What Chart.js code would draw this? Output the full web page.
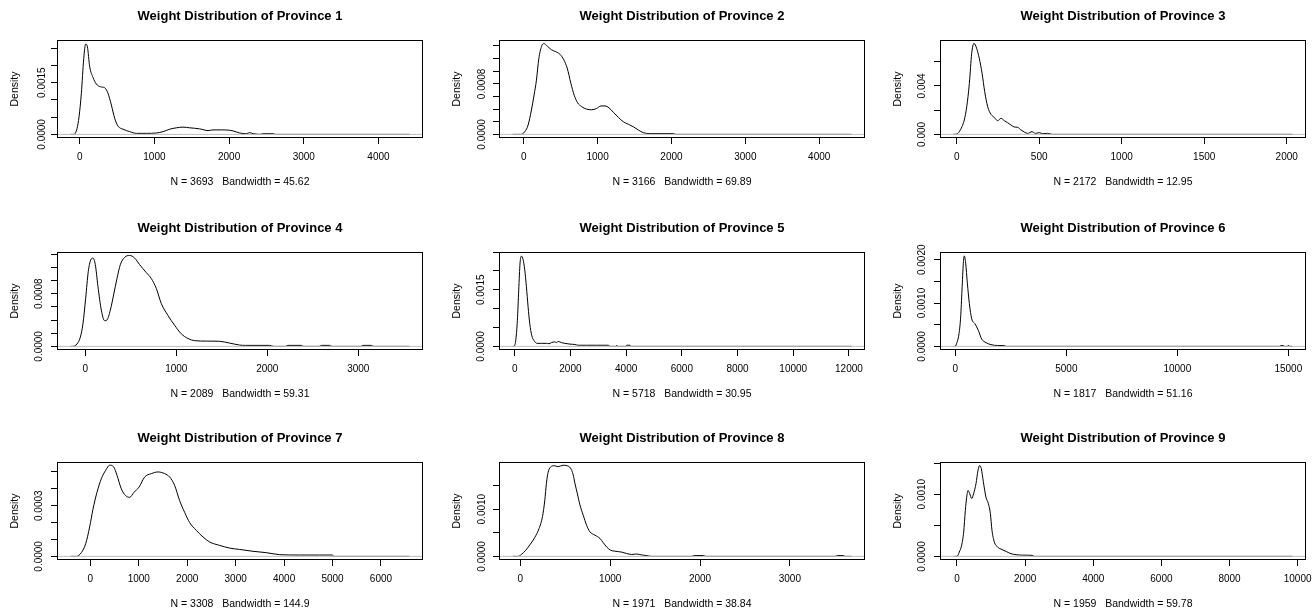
<!DOCTYPE html>
<html>
<head>
<meta charset="utf-8">
<script src="https://cdn.jsdelivr.net/npm/chart.js@4.4.1/dist/chart.umd.min.js"></script>
<style>
html,body{margin:0;padding:0;background:#fff;width:1316px;height:611px;overflow:hidden;position:relative}
canvas{position:absolute}
</style>
</head>
<body>
<script>
// ---------------- data ----------------
const titles = [1,2,3,4,5,6,7,8,9].map(n => 'Weight Distribution of Province ' + n);
const sampleSizes = [3693, 3166, 2172, 2089, 5718, 1817, 3308, 1971, 1959];
const bandwidths = ['45.62', '69.89', '12.95', '59.31', '30.95', '51.16', '144.9', '38.84', '59.78'];

// axis limits (R default: data range extended by 4%)
const xLimits = [[-304, 4596], [-335, 4620], [-101, 2117], [-311, 3711], [-564, 12576], [-691, 15796], [-688, 6868], [-238, 3837], [-499, 10245]];
const yLimits = [[-0.000105, 0.002737], [-0.0000575, 0.001495], [-0.0003, 0.007785], [-0.000055, 0.001432], [-0.0000962, 0.0025], [-0.0000838, 0.002179], [-0.0000215, 0.000559], [-0.000077, 0.001999], [-0.0000583, 0.001517]];

// tick values and labels
const xTicks = [
  [0, 1000, 2000, 3000, 4000],
  [0, 1000, 2000, 3000, 4000],
  [0, 500, 1000, 1500, 2000],
  [0, 1000, 2000, 3000],
  [0, 2000, 4000, 6000, 8000, 10000, 12000],
  [0, 5000, 10000, 15000],
  [0, 1000, 2000, 3000, 4000, 5000, 6000],
  [0, 1000, 2000, 3000],
  [0, 2000, 4000, 6000, 8000, 10000]
];
const yTicks = [
  [0, 0.0005, 0.001, 0.0015, 0.002, 0.0025],
  [0, 0.0002, 0.0004, 0.0006, 0.0008, 0.001, 0.0012, 0.0014],
  [0, 0.002, 0.004, 0.006],
  [0, 0.0002, 0.0004, 0.0006, 0.0008, 0.001, 0.0012, 0.0014],
  [0, 0.0005, 0.001, 0.0015, 0.002, 0.0025],
  [0, 0.0005, 0.001, 0.0015, 0.002],
  [0, 0.0001, 0.0002, 0.0003, 0.0004, 0.0005],
  [0, 0.0005, 0.001, 0.0015],
  [0, 0.0005, 0.001, 0.0015]
];
const yTickLabels = [
  ['0.0000', '', '', '0.0015', '', ''],
  ['0.0000', '', '', '', '0.0008', '', '', ''],
  ['0.000', '', '0.004', ''],
  ['0.0000', '', '', '', '0.0008', '', '', ''],
  ['0.0000', '', '', '0.0015', '', ''],
  ['0.0000', '', '0.0010', '', '0.0020'],
  ['0.0000', '', '', '0.0003', '', ''],
  ['0.0000', '', '0.0010', ''],
  ['0.0000', '', '0.0010', '']
];

// density curves (x: weight, y: density)
const p1X = [-123, -80, -36, -9, 22, 54, 80, 103, 134, 178, 223, 277, 335, 379, 424, 469, 513, 580, 669, 759, 892, 1026, 1116, 1205, 1294, 1383, 1473, 1606, 1718, 1785, 1897, 2008, 2053, 2142, 2231, 2276, 2321, 2365, 2410, 2455, 2520, 2589, 2620, 4414];
const p1Y = [0, 0, 0.00017, 0.00051, 0.00119, 0.0022, 0.00262, 0.00254, 0.00196, 0.00165, 0.00146, 0.00138, 0.00135, 0.00119, 0.00085, 0.00046, 0.00024, 0.00015, 0.00008, 0.00003, 0.00003, 0.00004, 0.00008, 0.00015, 0.00019, 0.00021, 0.00019, 0.00016, 0.00011, 0.00013, 0.00013, 0.00012, 0.0001, 0.00004, 0.00002, 0.00005, 0.00002, 0.00001, 0, 0.00002, 0.00002, 0.00002, 0, 0];

const p2X = [-152, -41, 14, 59, 104, 140, 172, 204, 240, 271, 317, 376, 434, 489, 543, 588, 638, 683, 729, 783, 851, 919, 986, 1045, 1100, 1154, 1213, 1281, 1348, 1416, 1484, 1552, 1620, 1710, 1846, 2027, 2060, 4436];
const p2Y = [0, 0, 0.000042, 0.000148, 0.000386, 0.000623, 0.00086, 0.0012, 0.00139, 0.00144, 0.0014, 0.00134, 0.00131, 0.00127, 0.00118, 0.00105, 0.00081, 0.00062, 0.0005, 0.00044, 0.0004, 0.00039, 0.00041, 0.00045, 0.00045, 0.00042, 0.00035, 0.00027, 0.0002, 0.00016, 0.00012, 0.000069, 0.000026, 0.000012, 0.000012, 0.000012, 0, 0];

const p3X = [-19, 2, 16, 32, 46, 61, 77, 91, 105, 121, 137, 154, 170, 188, 208, 228, 248, 269, 289, 309, 329, 349, 370, 390, 410, 430, 457, 477, 501, 521, 552, 580, 2035];
const p3Y = [0, 0.00003, 0.00022, 0.00063, 0.00118, 0.00228, 0.00421, 0.00668, 0.00751, 0.0071, 0.00627, 0.00503, 0.00352, 0.00228, 0.00165, 0.0014, 0.00113, 0.00132, 0.00113, 0.00096, 0.00077, 0.00061, 0.00058, 0.00036, 0.00019, 0.00008, 0.00022, 0.00008, 0.00014, 0.00006, 0.00008, 0, 0];

const p4X = [-162, -136, -92, -55, -26, 4, 33, 59, 84, 110, 139, 176, 212, 238, 275, 311, 348, 385, 432, 487, 542, 597, 670, 725, 780, 835, 908, 982, 1055, 1128, 1201, 1330, 1476, 1586, 1696, 1760, 2026, 2070, 2200, 2227, 2374, 2400, 2570, 2593, 2685, 2710, 3030, 3051, 3143, 3170, 3562];
const p4Y = [0, 0, 0.000036, 0.000138, 0.00034, 0.00073, 0.00114, 0.00131, 0.00134, 0.00124, 0.00091, 0.00055, 0.00039, 0.0004, 0.00055, 0.00078, 0.00103, 0.00124, 0.00135, 0.00138, 0.00134, 0.00124, 0.00112, 0.00103, 0.00088, 0.00065, 0.00047, 0.00032, 0.00019, 0.00012, 0.000087, 0.00008, 0.000077, 0.00005, 0.00002, 0.000015, 0.000015, 0, 0, 0.000015, 0.000015, 0, 0, 0.000015, 0.000015, 0, 0, 0.000015, 0.000015, 0, 0];

const p5X = [-77, -36, 36, 96, 144, 192, 240, 300, 360, 420, 480, 540, 612, 696, 804, 960, 1140, 1230, 1320, 1440, 1500, 1560, 1680, 1800, 1980, 2160, 2280, 2580, 2940, 3360, 3420, 3640, 3660, 3680, 4000, 4020, 4140, 4160, 12090];
const p5Y = [0, 0, 0.00015, 0.00069, 0.00149, 0.00221, 0.00239, 0.0023, 0.00203, 0.00158, 0.00105, 0.0006, 0.00029, 0.00015, 0.00008, 0.00008, 0.00008, 0.00007, 0.0001, 0.00012, 0.0001, 0.00013, 0.0001, 0.00008, 0.00006, 0.00005, 0.00003, 0.00003, 0.00003, 0.00003, 0, 0, 0.00003, 0, 0, 0.00003, 0.00003, 0, 0];

const p6X = [-80, -15, 75, 165, 240, 300, 360, 405, 465, 541, 631, 736, 886, 1036, 1186, 1381, 1607, 1907, 2207, 2280, 14620, 14650, 14780, 14810, 14960, 14985, 15020, 15045, 15186];
const p6Y = [0, 0, 0.000093, 0.00029, 0.00068, 0.0013, 0.00192, 0.00209, 0.00192, 0.00146, 0.00099, 0.00064, 0.00052, 0.00037, 0.00017, 0.000086, 0.00004, 0.00002, 0.00002, 0, 0, 0.00002, 0.00002, 0, 0, 0.00002, 0.00002, 0, 0];

const p7X = [-408, -289, -186, -96, -14, 55, 138, 227, 317, 399, 482, 551, 640, 729, 812, 902, 1005, 1122, 1259, 1397, 1535, 1638, 1741, 1844, 1948, 2051, 2188, 2326, 2464, 2670, 2877, 3083, 3358, 3634, 3909, 4322, 4735, 4996, 5030, 6588];
const p7Y = [0, 0, 0.000022, 0.000075, 0.000174, 0.00028, 0.00038, 0.00046, 0.00051, 0.00054, 0.00053, 0.00048, 0.0004, 0.00036, 0.00035, 0.00038, 0.00041, 0.00047, 0.00049, 0.0005, 0.00049, 0.00047, 0.00042, 0.00033, 0.00026, 0.0002, 0.000154, 0.000115, 0.000085, 0.000065, 0.000049, 0.000041, 0.00003, 0.000022, 0.00001, 0.000008, 0.000008, 0.000008, 0, 0];

const p8X = [-87, -26, 11, 60, 112, 160, 208, 246, 272, 290, 309, 335, 376, 421, 476, 521, 558, 588, 607, 633, 663, 700, 737, 774, 830, 886, 923, 960, 1005, 1053, 1128, 1184, 1239, 1295, 1351, 1426, 1463, 1910, 1935, 2040, 2065, 3505, 3528, 3595, 3620, 3686];
const p8Y = [0, 0, 0.00004, 0.00013, 0.00026, 0.0004, 0.00059, 0.00084, 0.00119, 0.00155, 0.00178, 0.00189, 0.00192, 0.0019, 0.00193, 0.00192, 0.00187, 0.00173, 0.00155, 0.00134, 0.00109, 0.00087, 0.00066, 0.00052, 0.00045, 0.00038, 0.00029, 0.0002, 0.00013, 0.00011, 0.00009, 0.00006, 0.00004, 0.00005, 0.00003, 0.00001, 0, 0, 0.000018, 0.000018, 0, 0, 0.000018, 0.000018, 0, 0];

const p9X = [-101, 0, 68, 137, 196, 245, 284, 323, 372, 431, 489, 558, 616, 665, 714, 773, 851, 920, 979, 1027, 1096, 1194, 1321, 1458, 1585, 1732, 1928, 2202, 2270, 9847];
const p9Y = [0, 0, 0.00007, 0.00018, 0.00039, 0.00074, 0.00095, 0.00106, 0.00101, 0.00093, 0.00101, 0.00117, 0.00138, 0.00146, 0.00141, 0.0012, 0.00095, 0.00085, 0.00069, 0.00042, 0.00023, 0.00015, 0.00011, 0.000075, 0.000043, 0.000027, 0.00002, 0.000016, 0, 0];

const curvesX = [p1X, p2X, p3X, p4X, p5X, p6X, p7X, p8X, p9X];
const curvesY = [p1Y, p2Y, p3Y, p4Y, p5Y, p6Y, p7Y, p8Y, p9Y];

// ---------------- layout / style ----------------
const FAMILY = "'Liberation Sans', Arial, sans-serif";
const colLeft = [0, 442, 883];
const rowTop = [0, 212, 422];
const CW = 433, CH = 189;
const yLabelGap = [14.5, 16.5, 17.5, 18, 17.5, 18, 18, 17, 17.3];

const measureCtx = document.createElement('canvas').getContext('2d');
measureCtx.font = '10px ' + FAMILY;

const frame = {
  id: 'frame',
  afterDatasetsDraw(chart) {
    const {ctx, chartArea: a} = chart;
    const y0 = chart.scales.y.getPixelForValue(0);
    ctx.save();
    ctx.strokeStyle = '#BEBEBE';
    ctx.lineWidth = 1;
    ctx.beginPath();
    ctx.moveTo(a.left, y0);
    ctx.lineTo(a.right, y0);
    ctx.stroke();
    ctx.strokeStyle = '#000';
    ctx.strokeRect(a.left + 0.5, a.top + 0.5, a.right - a.left - 1, a.bottom - a.top - 1);
    ctx.restore();
  }
};

for (let i = 0; i < 9; i++) {
  const c = document.createElement('canvas');
  c.width = CW; c.height = CH;
  c.style.left = colLeft[i % 3] + 'px';
  c.style.top = rowTop[Math.floor(i / 3)] + 'px';
  c.style.width = CW + 'px'; c.style.height = CH + 'px';
  document.body.appendChild(c);

  const widest = Math.max(...yTickLabels[i].map(s => measureCtx.measureText(s).width));
  const yPad = yLabelGap[i] - 6 - widest / 2;
  const xs = xTicks[i], ys = yTicks[i], yl = yTickLabels[i];

  new Chart(c, {
    type: 'line',
    data: {
      datasets: [{
        data: curvesX[i].map((x, k) => ({x: x, y: curvesY[i][k]})),
        borderColor: '#000',
        borderWidth: 1,
        pointRadius: 0,
        fill: false,
        cubicInterpolationMode: 'monotone'
      }]
    },
    options: {
      responsive: false,
      animation: false,
      events: [],
      devicePixelRatio: 1,
      layout: {padding: {left: 0, right: 10, top: 0, bottom: 0}},
      plugins: {
        legend: {display: false},
        tooltip: {enabled: false},
        title: {
          display: true, text: titles[i], fullSize: false, color: '#000',
          font: {family: FAMILY, size: 13, weight: 'bold'},
          padding: {top: 8.9, bottom: 15.5}
        },
        subtitle: {
          display: true, position: 'bottom', fullSize: false, color: '#000',
          text: 'N = ' + sampleSizes[i] + '   Bandwidth = ' + bandwidths[i],
          font: {family: FAMILY, size: 10.5},
          padding: {top: 5.7, bottom: 0.7}
        }
      },
      scales: {
        x: {
          type: 'linear', min: xLimits[i][0], max: xLimits[i][1],
          afterBuildTicks: s => { s.ticks = xs.map(v => ({value: v})); },
          afterFit: s => { s.height = 32; s.paddingLeft = 0; s.paddingRight = 0; },
          border: {display: false},
          grid: {drawOnChartArea: false, drawTicks: true, tickLength: 6, color: '#000', lineWidth: 1},
          ticks: {
            autoSkip: false, maxRotation: 0, minRotation: 0, padding: 7.5, color: '#000',
            font: {family: FAMILY, size: 10},
            callback: (v, k) => String(xs[k])
          }
        },
        y: {
          type: 'linear', min: yLimits[i][0], max: yLimits[i][1],
          afterBuildTicks: s => { s.ticks = ys.map(v => ({value: v})); },
          afterFit: s => { s.width = 57; s.paddingTop = 0; s.paddingBottom = 0; },
          border: {display: false},
          grid: {drawOnChartArea: false, drawTicks: true, tickLength: 6, color: '#000', lineWidth: 1},
          title: {
            display: true, text: 'Density', color: '#000',
            font: {family: FAMILY, size: 10.5},
            padding: {top: 8.7, bottom: 0}
          },
          ticks: {
            autoSkip: false, minRotation: 90, maxRotation: 90, crossAlign: 'center',
            padding: yPad, color: '#000',
            font: {family: FAMILY, size: 10},
            callback: (v, k) => yl[k]
          }
        }
      }
    },
    plugins: [frame]
  });
}
</script>
</body>
</html>
